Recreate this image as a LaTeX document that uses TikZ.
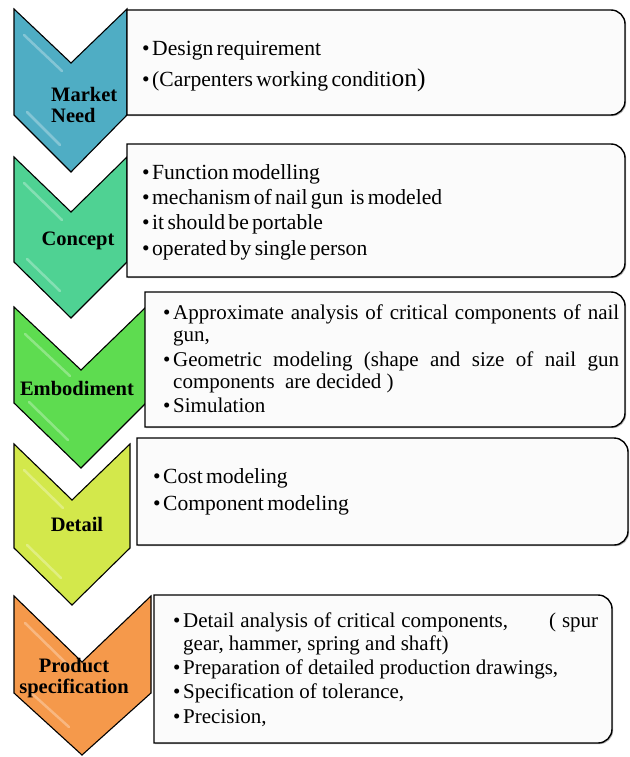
\documentclass[tikz,border=0pt]{standalone}
\usepackage{fontspec}
\setmainfont{Liberation Serif}
\usepackage{tikz}
\usetikzlibrary{shadows}

\definecolor{needcol}{HTML}{4FADC4}
\definecolor{conceptcol}{HTML}{4FD293}
\definecolor{embodcol}{HTML}{5EDC50}
\definecolor{detailcol}{HTML}{D3E84B}
\definecolor{prodcol}{HTML}{F5994B}

\newcommand{\bitem}{\par\hangindent=10pt\hangafter=1\noindent\makebox[10pt][l]{\textbullet}\strut}

\begin{document}
\begin{tikzpicture}[x=1pt,y=-1pt,
    chev/.style={draw=black,line width=1.1pt,line join=miter},
    gloss/.style={white,opacity=0.3,line width=2.5pt,line cap=round},
    boxy/.style={draw=black,line width=1.4pt,fill=gray!3,
      drop shadow={shadow xshift=1.2pt,shadow yshift=-1.2pt,opacity=0.3,fill=black}},
    txt/.style={anchor=north west,inner sep=0pt,align=left},
    lab/.style={inner sep=0pt,font=\fontsize{20.5}{21.5}\selectfont\bfseries}]
			\useasboundingbox (0,0) rectangle (629,757);
			
			% chevrons
			\draw[chev,fill=needcol] (14,9)--(71,63)--(127,9)--(127,115)--(71,172)--(14,115)--cycle;
			\draw[gloss] (24,35)--(62,71);
			\draw[gloss] (27,112)--(60,145);
			
			\draw[chev,fill=conceptcol] (14,157)--(71,212)--(127,157)--(127,262)--(71,318)--(14,262)--cycle;
			\draw[gloss] (24,183)--(62,220);
			\draw[gloss] (27,259)--(60,291);
			
			\draw[chev,fill=embodcol] (14,307)--(81,370)--(146,307)--(146,403)--(81,468)--(14,403)--cycle;
			\draw[gloss] (25,334)--(70,376);
			\draw[gloss] (29,402)--(68,440);
			
			\draw[chev,fill=detailcol] (14,444)--(72,500)--(130,444)--(130,548)--(72,605)--(14,548)--cycle;
			\draw[gloss] (24,470)--(63,508);
			\draw[gloss] (27,545)--(61,578);
			
			\draw[chev,fill=prodcol] (14,596)--(82,662)--(151,596)--(151,693)--(82,755)--(14,693)--cycle;
			\draw[gloss] (25,623)--(71,668);
			\draw[gloss] (29,691)--(69,727);
			
			% text boxes, rounded on the right only
			\draw[boxy] (127,10)--(376,10) [rounded corners=14pt] --(625,10)--(625,115)--(376,115) [sharp corners] --(127,115)--cycle;
			\draw[boxy] (127,144)--(376,144) [rounded corners=14pt] --(625,144)--(625,277)--(376,277) [sharp corners] --(127,277)--cycle;
			\draw[boxy] (145,292)--(385,292) [rounded corners=14pt] --(625,292)--(625,427)--(385,427) [sharp corners] --(145,427)--cycle;
			\draw[boxy] (137,438)--(382,438) [rounded corners=14pt] --(628,438)--(628,545)--(382,545) [sharp corners] --(137,545)--cycle;
			\draw[boxy] (154,595)--(383,595) [rounded corners=14pt] --(612,595)--(612,743)--(383,743) [sharp corners] --(154,743)--cycle;
			
			% stage names
			\node[lab,anchor=north west,align=left] (need) at (51,86) {\strut Market\\Need};
			\node[lab,anchor=base] (concept) at (78,245) {Concept};
			\node[lab,anchor=base] (embod) at (77,395) {Embodiment};
			\node[lab,anchor=base] (detail) at (77,531) {Detail};
			\node[lab,anchor=north,align=center] (prod) at (74,657) {\strut Product\\specification};
			
			% bullet lists
			\node[txt,text width=470pt] (needtxt) at (142,25) {\fontsize{21.6}{30}\selectfont
				\bitem Design requirement
				\bitem (Carpenters working conditi{\fontsize{25.5}{30}\selectfont on)}};
			\node[txt,text width=470pt] (concepttxt) at (142,154.5) {\fontsize{21.6}{25}\selectfont
				\bitem Function modelling
				\bitem mechanism of nail gun~ is modeled
				\bitem it should be portable
				\bitem operated by single person};
			\node[txt,text width=456pt,align=justify] (embodtxt) at (163,294) {\fontsize{21}{22}\selectfont\setlength{\parskip}{3pt}
				\bitem Approximate analysis of critical components of nail\linebreak gun,
				\bitem Geometric modeling (shape and size of nail gun\linebreak components~ are decided )
				\bitem Simulation};
			\node[txt,text width=450pt] (detailtxt) at (153,457.5) {\fontsize{21.6}{26}\selectfont
				\bitem Cost modeling
				\bitem Component modeling};
			\node[txt,text width=425pt,align=justify] (prodtxt) at (173,603.5) {\fontsize{21}{22.5}\selectfont\setlength{\parskip}{1.5pt}
				\bitem Detail analysis of critical components,~~~~~~ ( spur\linebreak gear, hammer, spring and shaft)
				\bitem Preparation of detailed production drawings,
				\bitem Specification of tolerance,
				\bitem Precision,};
		\end{tikzpicture}
\end{document}
